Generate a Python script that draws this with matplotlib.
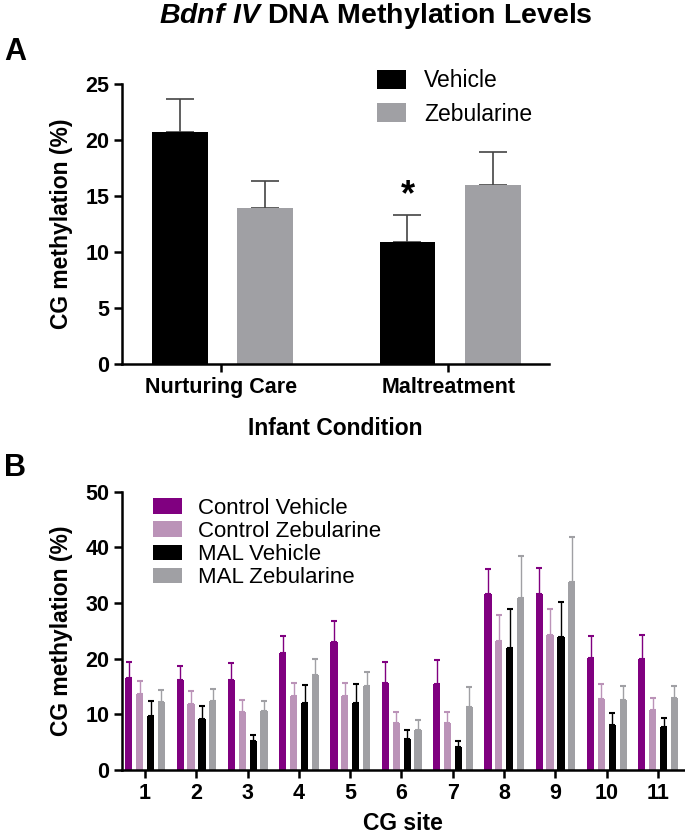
import numpy as np
import matplotlib
matplotlib.use('Agg')
import matplotlib.pyplot as plt

plt.rcParams['font.family'] = ['Liberation Sans', 'DejaVu Sans']
plt.rcParams['mathtext.fontset'] = 'custom'
plt.rcParams['mathtext.it'] = 'Liberation Sans:italic:bold'
plt.rcParams['mathtext.rm'] = 'Liberation Sans:bold'

# panel A data
conditions = ['Nurturing Care', 'Maltreatment']
vehicle = [20.75, 10.9]
vehicle_err = [2.9, 2.4]
zebularine = [13.9, 16.0]
zebularine_err = [2.4, 2.9]

# panel B data
sites = [1, 2, 3, 4, 5, 6, 7, 8, 9, 10, 11]
ctrl_veh = [16.6, 16.2, 16.2, 21.1, 23.0, 15.7, 15.4, 31.7, 31.6, 20.1, 20.0]
ctrl_veh_err = [2.9, 2.5, 3.0, 3.0, 3.7, 3.7, 4.4, 4.5, 4.7, 3.9, 4.2]
ctrl_zeb = [13.6, 11.9, 10.5, 13.4, 13.4, 8.4, 8.5, 23.2, 24.3, 12.7, 10.8]
ctrl_zeb_err = [2.5, 2.4, 2.1, 2.2, 2.2, 2.0, 2.0, 4.7, 4.7, 2.8, 2.2]
mal_veh = [9.7, 9.2, 5.2, 12.1, 12.1, 5.6, 4.1, 21.9, 23.9, 8.1, 7.7]
mal_veh_err = [2.7, 2.4, 1.2, 3.2, 3.4, 1.7, 1.1, 7.0, 6.3, 2.2, 1.6]
mal_zeb = [12.3, 12.4, 10.7, 17.0, 15.2, 7.3, 11.3, 30.9, 33.8, 12.6, 12.9]
mal_zeb_err = [2.1, 2.1, 1.7, 3.0, 2.4, 1.7, 3.6, 7.5, 8.0, 2.6, 2.2]

purple = '#800080'
light_purple = '#bb93b8'
grey = '#a0a0a4'

fig = plt.figure(figsize=(6.85, 8.39), dpi=100)

fig.text(0.548, 0.981, r'$\it{Bdnf\ IV}$ DNA Methylation Levels', ha='center', va='center',
         fontsize=20.5, fontweight='bold')
fig.text(0.006, 0.938, 'A', fontsize=22, fontweight='bold', va='center')
fig.text(0.006, 0.442, 'B', fontsize=22, fontweight='bold', va='center')


def style_axes(ax):
    for s in ['top', 'right']:
        ax.spines[s].set_visible(False)
    for s in ['left', 'bottom']:
        ax.spines[s].set_linewidth(1.8)
    ax.tick_params(width=1.8, length=6, labelsize=15.5, pad=3)
    for lab in ax.get_xticklabels() + ax.get_yticklabels():
        lab.set_fontweight('bold')


# ---- panel A
axA = fig.add_axes([0.178, 0.566, 0.623, 0.334])
x = np.arange(len(conditions))
w = 0.245
axA.bar(x - 0.18, vehicle, w, color='black', label='Vehicle', zorder=2)
axA.bar(x + 0.195, zebularine, w, color=grey, label='Zebularine', zorder=2)
axA.errorbar(x - 0.18, vehicle, yerr=[np.zeros(2), vehicle_err], fmt='none',
             ecolor='#444444', elinewidth=1.2, capsize=10, capthick=1.2, zorder=1)
axA.errorbar(x + 0.195, zebularine, yerr=[np.zeros(2), zebularine_err], fmt='none',
             ecolor='#444444', elinewidth=1.2, capsize=10, capthick=1.2, zorder=1)
axA.text(1 - 0.18, 15.0, '*', ha='center', va='center', fontsize=26, fontweight='bold')
axA.set_xlim(-0.434, 1.44)
axA.set_ylim(0, 25)
axA.set_yticks([0, 5, 10, 15, 20, 25])
axA.set_xticks(x)
axA.set_xticklabels(conditions)
axA.set_ylabel('CG methylation (%)', fontsize=16.5, fontweight='bold', labelpad=9)
axA.set_xlabel('Infant Condition', fontsize=16.5, fontweight='bold', labelpad=14)
style_axes(axA)
axA.legend(loc='upper left', bbox_to_anchor=(0.55, 1.125), frameon=False, fontsize=16.5,
           handlelength=1.25, handleheight=0.9, labelspacing=0.45, handletextpad=0.8)

# ---- panel B
axB = fig.add_axes([0.178, 0.082, 0.82, 0.332])
xs = np.array(sites, dtype=float)
wb = 0.14
offs = [-0.315, -0.105, 0.11, 0.32]
series = [(ctrl_veh, ctrl_veh_err, purple, 'Control Vehicle'),
          (ctrl_zeb, ctrl_zeb_err, light_purple, 'Control Zebularine'),
          (mal_veh, mal_veh_err, 'black', 'MAL Vehicle'),
          (mal_zeb, mal_zeb_err, grey, 'MAL Zebularine')]
for (vals, errs, col, lab), off in zip(series, offs):
    axB.bar(xs + off, vals, wb, color=col, label=lab, zorder=2)
    axB.errorbar(xs + off, vals, yerr=[np.zeros(len(vals)), errs], fmt='none',
                 ecolor=col, elinewidth=1.0, capsize=2, capthick=1.5, zorder=1)
axB.set_xlim(0.55, 11.5)
axB.set_ylim(0, 50)
axB.set_yticks([0, 10, 20, 30, 40, 50])
axB.set_xticks(sites)
axB.set_ylabel('CG methylation (%)', fontsize=16.5, fontweight='bold', labelpad=9)
axB.set_xlabel('CG site', fontsize=16.5, fontweight='bold', labelpad=6)
style_axes(axB)
axB.legend(loc='upper left', bbox_to_anchor=(0.02, 1.05), frameon=False, fontsize=16,
           handlelength=1.3, handleheight=0.7, labelspacing=0.1, handletextpad=0.7)

fig.savefig('out.png', dpi=100)
